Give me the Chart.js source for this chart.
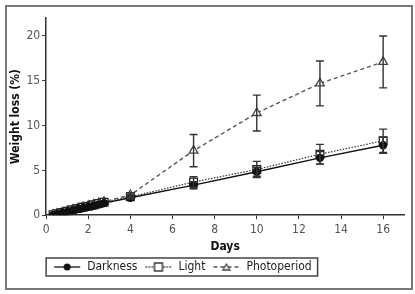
<!DOCTYPE html>
<html>
<head>
<meta charset="utf-8">
<script src="https://cdn.jsdelivr.net/npm/chart.js@4.4.0/dist/chart.umd.min.js"></script>
<style>
  body { margin: 0; background: #fff; }
  .frame { position: absolute; left: 5px; top: 5px; width: 404px; height: 281px; border: 2px solid #777; }
  canvas { display: block; }
</style>
</head>
<body>
<div class="frame"><canvas id="myChart" width="404" height="281"></canvas></div>
<script>
const days = [0.33, 0.5, 0.75, 1, 1.25, 1.5, 1.75, 2, 2.25, 2.5, 2.75, 4, 7, 10, 13, 16];
const darkness = [0.0, 0.1, 0.25, 0.4, 0.55, 0.7, 0.8, 0.95, 1.05, 1.2, 1.35, 1.95, 3.35, 4.85, 6.4, 7.8];
const light = [0.05, 0.15, 0.3, 0.45, 0.6, 0.75, 0.9, 1.0, 1.15, 1.3, 1.45, 2.05, 3.7, 5.1, 6.8, 8.3];
const photoperiod = [0.05, 0.15, 0.3, 0.45, 0.6, 0.75, 0.9, 1.05, 1.2, 1.35, 1.5, 2.25, 7.2, 11.4, 14.7, 17.1];
const darknessErr = [0, 0, 0, 0, 0, 0, 0, 0, 0, 0, 0, 0.15, 0.4, 0.5, 0.7, 0.9];
const lightErr = [0, 0, 0, 0, 0, 0, 0, 0, 0, 0, 0, 0.2, 0.6, 0.9, 1.1, 1.3];
const photoErr = [0, 0, 0, 0, 0, 0, 0, 0, 0, 0, 0, 0.25, 1.8, 2.0, 2.5, 2.9];
const xTicks = [0, 2, 4, 6, 8, 10, 12, 14, 16];
const yTicks = [0, 5, 10, 15, 20];

const font = "'DejaVu Sans Condensed', 'Liberation Sans Narrow', 'Liberation Sans', sans-serif";

function pts(ys) {
  return days.map(function(d, i) { return { x: d, y: ys[i] }; });
}

// small legend icons: line + marker
function icon(dash, color, style) {
  var c = document.createElement('canvas');
  c.width = 28; c.height = 12;
  var g = c.getContext('2d');
  g.strokeStyle = color; g.lineWidth = 1.3;
  g.setLineDash(dash);
  g.beginPath(); g.moveTo(1, 6); g.lineTo(27, 6); g.stroke();
  g.setLineDash([]);
  if (style == 'circle') {
    g.fillStyle = '#111';
    g.beginPath(); g.arc(14, 6, 3.5, 0, Math.PI * 2); g.fill();
  } else if (style == 'rect') {
    g.fillStyle = '#fff'; g.strokeStyle = '#222';
    g.fillRect(10, 2, 8, 8); g.strokeRect(10, 2, 8, 8);
  } else {
    g.fillStyle = '#fff'; g.strokeStyle = '#444';
    g.beginPath(); g.moveTo(14, 3); g.lineTo(17.5, 9); g.lineTo(10.5, 9); g.closePath();
    g.fill(); g.stroke();
  }
  return c;
}

const errs = [darknessErr, lightErr, photoErr];

const errorBars = {
  id: 'errorBars',
  afterDatasetsDraw: function(chart) {
    var ctx = chart.ctx;
    var xs = chart.scales.x, ys = chart.scales.y;
    ctx.save();
    ctx.strokeStyle = '#333';
    ctx.lineWidth = 1.4;
    chart.data.datasets.forEach(function(ds, k) {
      ds.data.forEach(function(p, i) {
        var e = errs[k][i];
        if (!e) return;
        var px = xs.getPixelForValue(p.x);
        var top = ys.getPixelForValue(p.y + e);
        var bot = ys.getPixelForValue(p.y - e);
        ctx.beginPath();
        ctx.moveTo(px, top); ctx.lineTo(px, bot);
        ctx.moveTo(px - 4, top); ctx.lineTo(px + 4, top);
        ctx.moveTo(px - 4, bot); ctx.lineTo(px + 4, bot);
        ctx.stroke();
      });
    });
    ctx.restore();
  }
};

const legendBox = {
  id: 'legendBox',
  afterDraw: function(chart) {
    var hb = chart.legend.legendHitBoxes;
    if (!hb || !hb.length) return;
    var l = chart.chartArea.left, t = hb[0].top - 3;
    var last = hb[hb.length - 1];
    var r = last.left + last.width + 6, b = last.top + last.height + 3;
    var ctx = chart.ctx;
    ctx.save();
    ctx.strokeStyle = '#444'; ctx.lineWidth = 1.5;
    ctx.strokeRect(l, t, r - l, b - t);
    ctx.restore();
  }
};

const data = {
  datasets: [{
    label: 'Darkness',
    data: pts(darkness),
    borderColor: '#111',
    borderWidth: 1.4,
    pointStyle: 'circle',
    pointRadius: 3.5,
    pointBackgroundColor: '#111',
    pointBorderColor: '#111',
    legendIcon: icon([], '#111', 'circle')
  }, {
    label: 'Light',
    data: pts(light),
    borderColor: '#333',
    borderWidth: 1.2,
    borderDash: [1.5, 1.5],
    pointStyle: 'rect',
    pointRadius: 5.5,
    pointBorderWidth: 1.3,
    pointBackgroundColor: '#fff',
    pointBorderColor: '#222',
    legendIcon: icon([1.5, 1.5], '#333', 'rect')
  }, {
    label: 'Photoperiod',
    data: pts(photoperiod),
    borderColor: '#555',
    borderWidth: 1.4,
    borderDash: [4, 3],
    pointStyle: 'triangle',
    pointRadius: 5,
    pointBorderWidth: 1.3,
    pointBackgroundColor: '#fff',
    pointBorderColor: '#444',
    legendIcon: icon([4, 3], '#555', 'triangle')
  }]
};

const config = {
  type: 'line',
  data: data,
  options: {
    responsive: false,
    animation: false,
    layout: { padding: { left: 2, right: 5, top: 11, bottom: 5 } },
    plugins: {
      tooltip: { enabled: false },
      legend: {
        position: 'bottom',
        align: 'start',
        fullSize: false,
        labels: {
          usePointStyle: true,
          pointStyleWidth: 28,
          boxHeight: 12,
          padding: 7,
          color: '#222',
          font: { family: font, size: 12 },
          generateLabels: function(chart) {
            return chart.data.datasets.map(function(ds, i) {
              return { text: ds.label, pointStyle: ds.legendIcon, datasetIndex: i, lineWidth: 0, fontColor: '#222' };
            });
          }
        }
      }
    },
    scales: {
      x: {
        type: 'linear',
        min: 0, max: 17,
        afterBuildTicks: function(axis) { axis.ticks = xTicks.map(function(v) { return { value: v }; }); },
        border: { color: '#333', width: 1.5 },
        grid: { drawOnChartArea: false, tickLength: 4, color: '#333' },
        ticks: { color: '#555', font: { family: font, size: 12 }, padding: 3 },
        title: { display: true, text: 'Days', color: '#111', font: { family: font, size: 12, weight: 'bold' }, padding: { top: 0, bottom: 0 } }
      },
      y: {
        min: 0, max: 22,
        afterBuildTicks: function(axis) { axis.ticks = yTicks.map(function(v) { return { value: v }; }); },
        border: { color: '#333', width: 1.5 },
        grid: { drawOnChartArea: false, tickLength: 4, color: '#333' },
        ticks: { color: '#555', font: { family: font, size: 12 }, padding: 2 },
        title: { display: true, text: 'Weight loss (%)', color: '#111', font: { family: font, size: 12, weight: 'bold' }, padding: { top: 0, bottom: 1 } }
      }
    }
  },
  plugins: [errorBars, legendBox]
};

const myChart = new Chart(document.getElementById('myChart').getContext('2d'), config);
</script>
</body>
</html>
